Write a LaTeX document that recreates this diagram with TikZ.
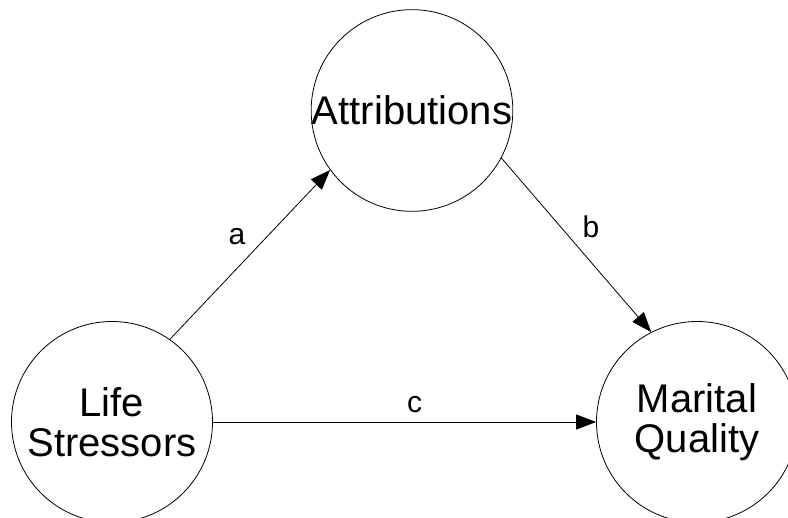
\documentclass[tikz,border=0pt]{standalone}
\usepackage{fontspec}
\setmainfont{Liberation Sans}
\usetikzlibrary{arrows.meta}
\begin{document}
\begin{tikzpicture}[x=1pt,y=-1pt,
  var/.style={circle,draw,line width=0.8pt,inner sep=0pt,minimum size=201pt,align=center,
    font=\fontsize{40}{40}\selectfont},
  path/.style={line width=0.8pt,-{Triangle[length=20pt,width=15pt]}},
  lbl/.style={font=\fontsize{30}{32}\selectfont,inner sep=0pt}]
\useasboundingbox (0,0) rectangle (788,518);
\node[var] (L) at (112,422) {Life\\Stressors};
\node[var] (A) at (412,110.5) {Attributions};
\node[var] (M) at (697,422) {Marital\\Quality};
\draw[path] (L.55) -- (A.216);
\draw[path] (A.332) -- (M.117.6);
\draw[path] (L.east) -- (M.west);
\node[lbl] (la) at (237,237) {a};
\node[lbl] (lb) at (591,227) {b};
\node[lbl] (lc) at (414.5,404.5) {c};
\end{tikzpicture}
\end{document}
